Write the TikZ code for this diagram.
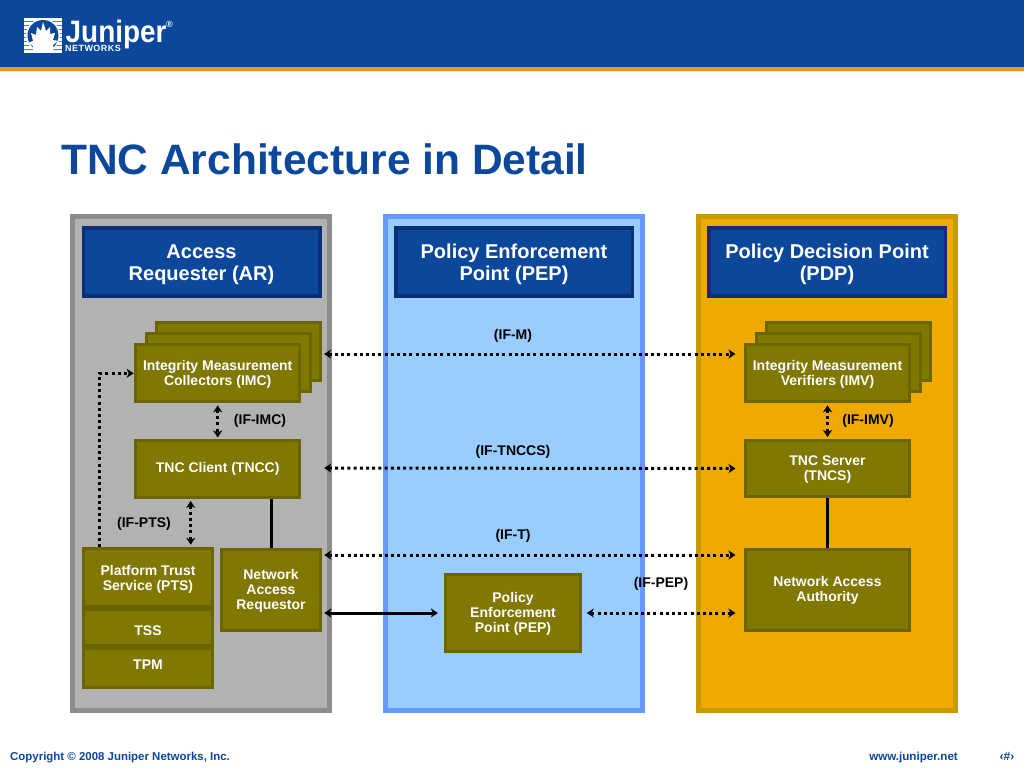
\documentclass[tikz,border=0pt]{standalone}
\usepackage{fontspec}
\setmainfont{Liberation Sans}
\newfontfamily\logofont[FakeStretch=0.9]{Liberation Sans}
\newfontfamily\logosubfont[LetterSpace=5]{Liberation Sans}
\usetikzlibrary{arrows.meta,calc}
\definecolor{jblue}{HTML}{0B479B}
\definecolor{jdark}{HTML}{0A2F78}
\definecolor{jgold}{HTML}{DDA00F}
\definecolor{oliveF}{HTML}{807800}
\definecolor{oliveB}{HTML}{6B6500}
\definecolor{arF}{HTML}{B2B2B2}
\definecolor{arB}{HTML}{8C8C8C}
\definecolor{pepF}{HTML}{99CCFF}
\definecolor{pepB}{HTML}{6699FF}
\definecolor{pdpF}{HTML}{EEAA00}
\definecolor{pdpB}{HTML}{C99A05}
\newcommand{\fs}[2]{\fontsize{#1}{#2}\selectfont\bfseries}
\newcommand{\hgap}{\rule{0pt}{19pt}}
\newcommand{\ogap}{\rule{0pt}{12.5pt}}
\newcommand{\ogapb}{\rule{0pt}{14.5pt}}
\tikzset{
 panel/.style={draw=#1,line width=5pt,minimum width=257pt,minimum height=494pt,inner sep=0pt},
 headerbox/.style={draw=jdark,fill=jblue,line width=3.5pt,minimum width=236.5pt,minimum height=68pt,text=white,font=\fs{20}{22},align=center,inner sep=0pt},
 olivebox/.style={draw=oliveB,fill=oliveF,line width=3pt,text=white,font=\fs{14}{15},align=center,inner sep=0pt},
 lab/.style={text=black,font=\fs{14}{15},align=center,inner sep=0pt},
 dotlink/.style={line width=3pt,dash pattern=on 3pt off 3.2pt,{Stealth[length=7pt,width=9pt,inset=2pt]}-{Stealth[length=7pt,width=9pt,inset=2pt]}},
 dotone/.style={line width=3pt,dash pattern=on 3pt off 3.2pt,-{Stealth[length=7pt,width=9pt,inset=2pt]}},
 solidtwo/.style={line width=3pt,{Stealth[length=7pt,width=9pt,inset=2pt]}-{Stealth[length=7pt,width=9pt,inset=2pt]}},
 solidline/.style={line width=3pt},
 foot/.style={text=jblue,inner sep=0pt},
}
\begin{document}
\begin{tikzpicture}[x=1pt,y=-1pt]
\useasboundingbox (0,0) rectangle (1024,768);
\fill[white] (0,0) rectangle (1024,768);
% top bar
\fill[jblue] (0,0) rectangle (1024,67);
\fill[jgold] (0,67) rectangle (1024,71);
% logo
\fill[white] (24,18) rectangle (62,53);
\foreach \yy in {21,25,29,33,37,41,45,49}{\fill[jblue!70] (24,\yy) rectangle (62,\yy+1);}
\fill[white] (43,35.5) circle (17);
\fill[jblue] (43,35.5) circle (15.5);
\fill[white] (33,53) -- (33,46) -- (28,43) -- (33,41) -- (31,33) -- (36,35) -- (37,27) -- (41,31) -- (43,22) -- (46,31) -- (50,27) -- (50,34) -- (55,33) -- (53,40) -- (58,41) -- (53,45) -- (53,53) -- cycle;
\node[anchor=base west,text=white,inner sep=0pt,font={\logofont\fontsize{31}{32}\selectfont\bfseries}] (logoword) at (65.5,43) {Juniper};
\node[anchor=base west,text=white,inner sep=0pt,font={\logosubfont\fontsize{9}{10}\selectfont\bfseries}] (logosub) at (65,52) {NETWORKS};
\node[anchor=center,text=white,inner sep=0pt,font=\fs{9}{10}] (logoreg) at (169.5,24) {®};
% title
\node[anchor=base west,text=jblue,inner sep=0pt,font=\fs{42.5}{44}] (title) at (61,174) {TNC Architecture in Detail};
% panels
\node[panel=arB,fill=arF] (ar) at (201,463.5) {};
\node[panel=pepB,fill=pepF] (pep) at (514,463.5) {};
\node[panel=pdpB,fill=pdpF] (pdp) at (827,463.5) {};
% headers
\node[headerbox] (arh) at (201.5,262) {\hgap Access\\Requester (AR)};
\node[headerbox] (peph) at (514,262) {\hgap Policy Enforcement\\Point (PEP)};
\node[headerbox] (pdph) at (827,262) {\hgap Policy Decision Point\\(PDP)};
% IMC stack
\node[olivebox,minimum width=164pt,minimum height=57.5pt] (imcb) at (238.3,351.3) {};
\node[olivebox,minimum width=164pt,minimum height=57.5pt] (imcm) at (228.3,362.7) {};
\node[olivebox,minimum width=164pt,minimum height=57pt] (imc) at (217.7,373.3) {\ogap Integrity Measurement\\Collectors (IMC)};
\node[olivebox,minimum width=164pt,minimum height=57pt] (tncc) at (217.7,469.2) {TNC Client (TNCC)};
\node[olivebox,minimum width=129pt,minimum height=57.5pt] (pts) at (148,577.5) {\ogapb Platform Trust\\Service (PTS)};
\node[olivebox,minimum width=129pt,minimum height=36pt,text height=18pt,text depth=3pt] (tss) at (148,627.5) {TSS};
\node[olivebox,minimum width=129pt,minimum height=39pt,text height=13pt,text depth=10pt] (tpm) at (148,667.5) {TPM};
\node[olivebox,minimum width=99pt,minimum height=81pt] (nar) at (271,589.5) {\ogap Network\\Access\\Requestor};
% PEP
\node[olivebox,minimum width=134.5pt,minimum height=76.5pt] (pepn) at (513,613) {\ogap Policy\\Enforcement\\Point (PEP)};
% IMV stack
\node[olivebox,minimum width=164pt,minimum height=57.5pt] (imvb) at (848,351.3) {};
\node[olivebox,minimum width=164pt,minimum height=57.5pt] (imvm) at (838,362.7) {};
\node[olivebox,minimum width=164pt,minimum height=57pt] (imv) at (827.5,373.3) {\ogap Integrity Measurement\\Verifiers (IMV)};
\node[olivebox,minimum width=164pt,minimum height=56.5pt] (tncs) at (827.5,468.5) {\ogap TNC Server\\(TNCS)};
\node[olivebox,minimum width=164pt,minimum height=81pt] (naa) at (827.5,589.5) {\ogap Network Access\\Authority};
% labels
\node[lab] (lifm) at (513,336) {(IF-M)};
\node[lab] (lifimc) at (260,421) {(IF-IMC)};
\node[lab] (lifimv) at (868,421) {(IF-IMV)};
\node[lab] (liftnccs) at (513,452) {(IF-TNCCS)};
\node[lab] (lifpts) at (144,524) {(IF-PTS)};
\node[lab] (lift) at (513,536) {(IF-T)};
\node[lab] (lifpep) at (661,583.5) {(IF-PEP)};
% connectors
\draw[dotlink,shorten <=2.3pt,shorten >=8.5pt] ([yshift=-2.7pt]imcb.east) -- ([yshift=19.3pt]imv.west);
\draw[dotlink,shorten <=23pt,shorten >=8.5pt] ([yshift=1.2pt]tncc.east) -- (tncs.west);
\draw[dotlink,shorten <=2.3pt,shorten >=8.5pt] ([yshift=34.5pt]nar.east) -- ([yshift=34.5pt]naa.west);
\draw[solidtwo,shorten <=2.3pt,shorten >=6.3pt] ([yshift=-23.5pt]nar.east) -- (pepn.west);
\draw[dotlink,shorten <=5pt,shorten >=8.5pt] (pepn.east) -- ([yshift=-23.5pt]naa.west);
\draw[dotlink,shorten <=2pt,shorten >=1.7pt] (imc.south) -- (tncc.north);
\draw[dotlink,shorten <=2pt,shorten >=1.7pt] (imv.south) -- (tncs.north);
\draw[dotlink,shorten <=1.7pt,shorten >=2.5pt] ([xshift=-27pt]tncc.south) -- ([xshift=42.7pt]pts.north);
\draw[solidline] (nar.north) -- (nar.north |- tncc.south);
\draw[solidline] (tncs.south) -- (naa.north);
\draw[dotone,shorten >=0.5pt] ([xshift=17.5pt]pts.north west) |- (imc.west);
% footer
\node[foot,anchor=base west,font=\fs{11.45}{14}] (copy) at (10,760) {Copyright © 2008 Juniper Networks, Inc.};
\node[foot,anchor=base east,font=\fs{11.6}{14}] (web) at (958,760) {www.juniper.net};
\node[foot,anchor=base,font=\fs{12}{14}] (num) at (1007,760) {‹\#›};
\end{tikzpicture}
\end{document}
